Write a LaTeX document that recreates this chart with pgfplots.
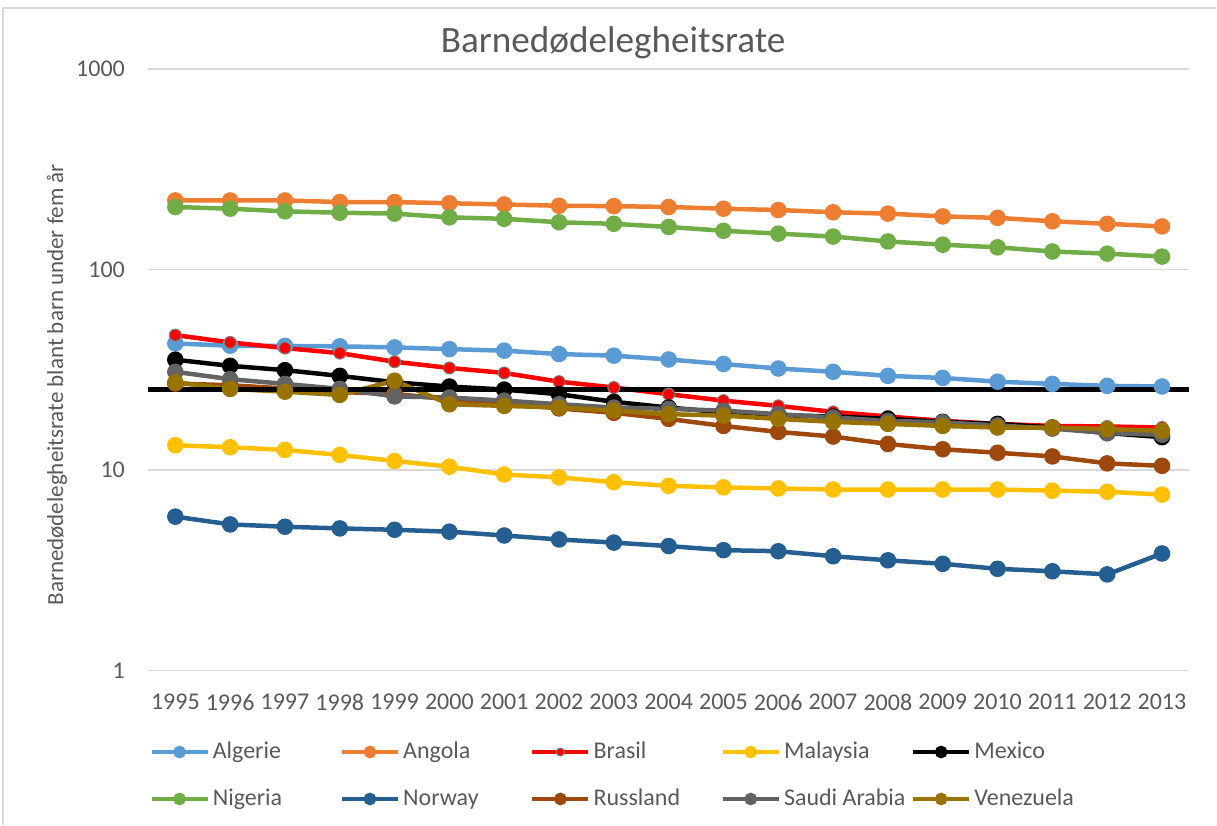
\documentclass[border=0pt]{standalone}
\usepackage{fontspec}
\setmainfont{Carlito}
\usepackage{pgfplots}
\usepackage{pgfplotstable}
\pgfplotsset{compat=1.18}

\definecolor{txtgray}{HTML}{595959}
\definecolor{gridgray}{HTML}{D9D9D9}
\definecolor{cAlg}{HTML}{5B9BD5}
\definecolor{cAng}{HTML}{ED7D31}
\definecolor{cBra}{HTML}{FF0000}
\definecolor{cMal}{HTML}{FFC000}
\definecolor{cMex}{HTML}{000000}
\definecolor{cNig}{HTML}{70AD47}
\definecolor{cNor}{HTML}{255E91}
\definecolor{cRus}{HTML}{9E480E}
\definecolor{cSau}{HTML}{636363}
\definecolor{cVen}{HTML}{997300}

% under-five mortality per 1000
\pgfplotstableread{
year Algerie Angola Brasil Malaysia Mexico Nigeria Norway Russland Saudi Venezuela
1995 42.8 221 47.1 13.3 35.5 205 5.86 27.0 30.9 27.4
1996 41.7 221 43.3 13.0 33.1 201 5.36 26.5 28.4 25.4
1997 41.6 221 40.6 12.6 31.5 195 5.22 25.5 26.9 24.6
1998 41.4 217 38.3 11.9 29.5 192 5.12 24.5 25.4 23.7
1999 40.9 217 34.7 11.1 27.4 190 5.04 24.0 23.3 27.9
2000 40.1 214 32.3 10.4 26.1 182 4.93 22.5 23.0 21.3
2001 39.4 211 30.5 9.5 25.2 179 4.72 21.5 22.2 20.9
2002 37.9 208 27.6 9.2 23.9 172 4.51 20.3 21.3 20.5
2003 37.2 207 25.8 8.7 21.9 169 4.35 19.3 20.5 19.8
2004 35.6 205 23.9 8.35 20.5 163 4.18 18.0 20.2 19.0
2005 33.8 201 22.2 8.2 19.4 156 3.99 16.6 19.8 18.7
2006 32.1 198 20.9 8.1 18.8 151 3.94 15.5 19.0 18.0
2007 30.9 193 19.5 8.0 18.5 146 3.72 14.7 18.3 17.4
2008 29.5 190 18.5 8.0 18.0 138 3.55 13.5 17.6 17.0
2009 28.8 184 17.6 8.0 17.4 133 3.41 12.7 17.3 16.6
2010 27.6 181 17.0 8.0 17.0 129 3.22 12.2 16.7 16.3
2011 26.9 174 16.6 7.9 16.3 123 3.13 11.7 16.1 16.3
2012 26.3 169 16.5 7.8 15.3 120 3.02 10.8 15.3 16.0
2013 26.1 164 16.3 7.55 14.6 116 3.84 10.5 15.0 15.7
}\datatable

\begin{document}
\begin{tikzpicture}[x=1pt,y=1pt]
\path (0,0) rectangle (608.5,412.5);
\draw[gridgray, line width=0.6pt] (1.5,0) -- (1.5,408.5) -- (608.5,408.5);
\begin{axis}[
  at={(74pt,77pt)}, anchor=south west,
  width=521pt, height=301pt, scale only axis,
  ymode=log, ymin=1, ymax=1000,
  xmin=1994.5, xmax=2013.5,
  xtick={1995,...,2013},
  ytick={1,10,100,1000}, yticklabels={1,10,100,1000},
  yminorticks=false, xminorticks=false,
  /pgf/number format/1000 sep={},
  /pgf/number format/assume math mode=true,
  axis line style={draw=none},
  major tick length=0pt, minor tick length=0pt,
  ymajorgrids, grid style={gridgray, line width=0.6pt},
  tick label style={font=\fontsize{12}{14}\selectfont, text=txtgray},
  xticklabel style={yshift=-8.2pt},
  yticklabel style={xshift=-8pt},
  title={Barnedødelegheitsrate},
  title style={at={(axis description cs:0.4467,1.023)}, anchor=center,
    font=\fontsize{18.6}{22}\selectfont, text=txtgray},
  ylabel={Barnedødelegheitsrate blant barn under fem år},
  ylabel style={at={(axis description cs:-0.0873,0.475)}, anchor=center,
    font=\fontsize{11.5}{14}\selectfont, text=txtgray},
  every axis plot/.append style={line width=2.25pt, mark=*, mark size=3pt},
  legend columns=5,
  legend cell align=left,
  legend style={draw=none, fill=none, at={(0,0)}, anchor=north west,
    xshift=0.5pt, yshift=-35pt, font=\fontsize{12}{14}\selectfont, text=txtgray,
    row sep=12.5pt, inner sep=0pt,
    nodes={inner xsep=1.5pt, inner ysep=0pt, text height=8.5pt, text depth=2.5pt},
    /tikz/every even column/.append style={column sep=0pt}},
  legend image code/.code={\draw[mark repeat=2,mark phase=2,mark size=2pt,#1]
    plot coordinates {(0pt,0pt) (14pt,0pt) (28pt,0pt)};},
]
\addplot[color=cAlg, mark options={fill=cAlg}] table[x=year,y=Algerie]{\datatable};
\addlegendentry{\makebox[62pt][l]{Algerie}}
\addplot[color=cAng, mark options={fill=cAng}] table[x=year,y=Angola]{\datatable};
\addlegendentry{\makebox[62pt][l]{Angola}}
\addplot[color=cBra, mark options={fill=cBra, draw=gray, line width=0.5pt}] table[x=year,y=Brasil]{\datatable};
\addlegendentry{\makebox[62pt][l]{Brasil}}
\addplot[color=cMal, mark options={fill=cMal}] table[x=year,y=Malaysia]{\datatable};
\addlegendentry{\makebox[62pt][l]{Malaysia}}
\addplot[color=cMex, mark options={fill=cMex}] table[x=year,y=Mexico]{\datatable};
\addlegendentry{\makebox[62pt][l]{Mexico}}
\addplot[color=cNig, mark options={fill=cNig}] table[x=year,y=Nigeria]{\datatable};
\addlegendentry{\makebox[62pt][l]{Nigeria}}
\addplot[color=cNor, mark options={fill=cNor}] table[x=year,y=Norway]{\datatable};
\addlegendentry{\makebox[62pt][l]{Norway}}
\addplot[color=cRus, mark options={fill=cRus}] table[x=year,y=Russland]{\datatable};
\addlegendentry{\makebox[62pt][l]{Russland}}
\addplot[color=cSau, mark options={fill=cSau}] table[x=year,y=Saudi]{\datatable};
\addlegendentry{\makebox[62pt][l]{Saudi Arabia}}
\addplot[color=cVen, mark options={fill=cVen}] table[x=year,y=Venezuela]{\datatable};
\addlegendentry{\makebox[62pt][l]{Venezuela}}
% reference line
\addplot[forget plot, black, line width=2.5pt, mark=none] coordinates {(1994.5,25.3) (2013.5,25.3)};
\end{axis}
\end{tikzpicture}
\end{document}
